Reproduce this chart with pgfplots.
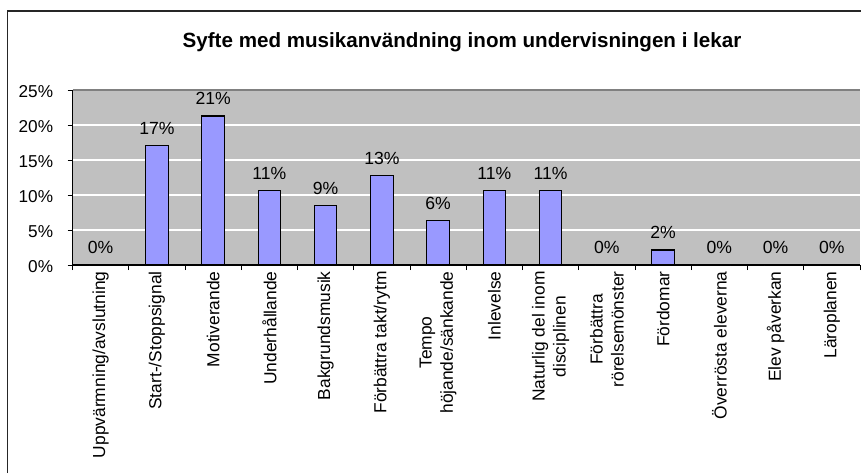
\documentclass[border=0pt]{standalone}
\usepackage{fontspec}
\setmainfont{Liberation Sans}
\usepackage{pgfplots}
\pgfplotsset{compat=1.18}
\definecolor{plotgray}{RGB}{192,192,192}
\definecolor{barblue}{RGB}{153,153,255}
\definecolor{framegray}{RGB}{128,128,128}

\begin{document}
\begin{tikzpicture}[x=1pt,y=1pt]
\useasboundingbox (0,0) rectangle (430.5,236.5);
% frame of the (cropped) chart area
\draw[line width=0.8pt, black!85] (3.75,0) -- (3.75,231) -- (430.5,231);
\node[font=\bfseries\fontsize{10.3}{12}\selectfont] at (231,215.5)
  {Syfte med musikanvändning inom undervisningen i lekar};
\begin{axis}[
  at={(36.25pt,104pt)}, anchor=south west,
  scale only axis, width=393.75pt, height=87.5pt,
  axis background/.style={fill=plotgray},
  axis x line*=bottom, axis y line*=left,
  ymin=0, ymax=25, ytick={0,5,...,25},
  yticklabel={\pgfmathprintnumber{\tick}\%},
  ymajorgrids, grid style={white, line width=0.6pt},
  xmin=0, xmax=14,
  xtick={0,...,14}, xticklabels={},
  extra x ticks={0.5,1.5,...,13.5},
  extra x tick labels={Uppvärmning/avslutning, Start-/Stoppsignal, Motiverande,
    Underhållande, Bakgrundsmusik, Förbättra takt/rytm, {Tempo\\höjande/sänkande},
    Inlevelse, {Naturlig del inom\\disciplinen}, {Förbättra\\rörelsemönster},
    Fördomar, Överrösta eleverna, Elev påverkan, Läroplanen},
  extra x tick style={major tick length=0pt, grid=none,
    xticklabel style={rotate=90, anchor=east, align=center, inner sep=0pt,
      xshift=-3pt, font=\fontsize{8.7}{10.6}\selectfont}},
  tick align=outside, major tick length=2.5pt,
  tick style={black, line width=0.5pt},
  axis line style={black, line width=0.6pt},
  /pgf/number format/assume math mode=true,
  tick label style={font=\fontsize{8.6}{9.8}\selectfont},
  yticklabel style={inner sep=0pt, xshift=-7pt, yshift=-0.8pt},
  ybar, bar width=0.4,
  nodes near coords={\pgfmathprintnumber[fixed,precision=0]{\pgfplotspointmeta}\%},
  every node near coord/.style={font=\fontsize{8.8}{10}\selectfont, anchor=base,
    inner sep=0pt, yshift=5.6pt, black},
  clip=false,
]
\addplot[fill=barblue, draw=black, line width=0.6pt] coordinates {
  (0.5,0) (1.5,17.02) (2.5,21.28) (3.5,10.64) (4.5,8.51) (5.5,12.77) (6.5,6.38)
  (7.5,10.64) (8.5,10.64) (9.5,0) (10.5,2.13) (11.5,0) (12.5,0) (13.5,0)};
\draw[framegray, line width=0.6pt] (rel axis cs:0,1) -- (rel axis cs:1,1);
\end{axis}
\end{tikzpicture}
\end{document}
